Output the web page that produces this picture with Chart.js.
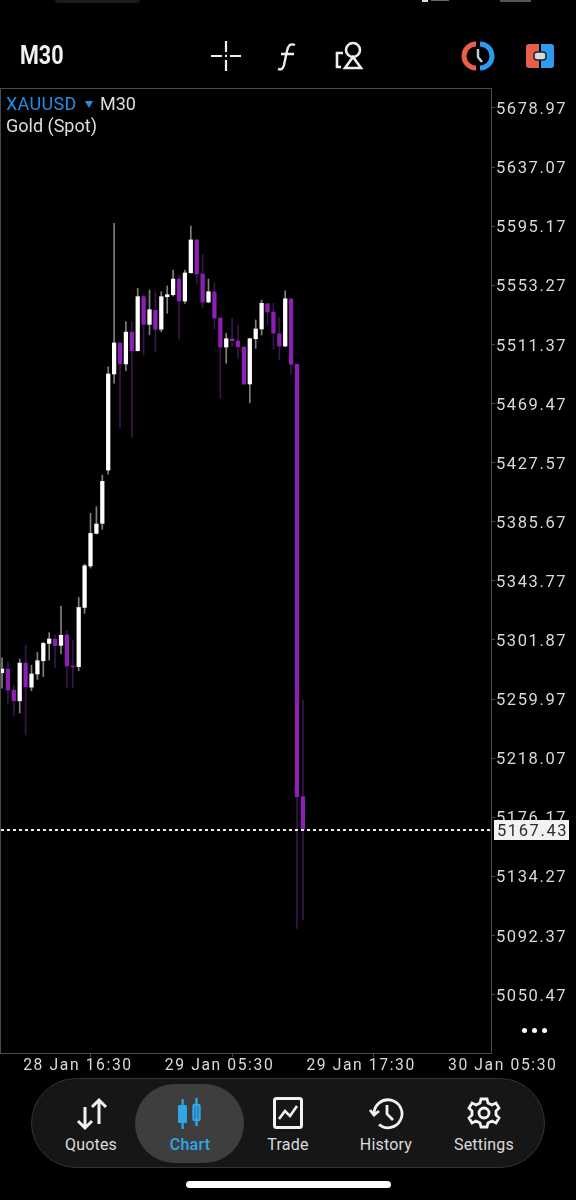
<!DOCTYPE html>
<html>
<head>
<meta charset="utf-8">
<title>XAUUSD M30</title>
<script src="https://cdn.jsdelivr.net/npm/chart.js"></script>
<style>
  html, body { margin: 0; background: #000; }
  #page { position: relative; width: 576px; height: 1200px; overflow: hidden; background: #000; font-family: Roboto, sans-serif; }
  #myChart { position: absolute; left: 0; top: 0; }
  .txt { position: absolute; white-space: nowrap; line-height: 1; }
  .navlabel { position: absolute; top: 1137px; width: 90px; text-align: center; font-size: 16px; line-height: 1; color: #dcdcdc; letter-spacing: 0.2px; }
  svg { position: absolute; overflow: visible; }
  .dot { position: absolute; top: 1028px; width: 5px; height: 5px; border-radius: 50%; background: #fff; }
</style>
</head>
<body>
<div id="page">
  <canvas id="myChart" width="576" height="1200"></canvas>

  <!-- status bar leftovers -->
  <div style="position:absolute;left:55px;top:0;width:85px;height:3px;background:#1b1b1b;border-radius:0 0 6px 6px"></div>
  <div style="position:absolute;left:422px;top:0;width:6px;height:2px;background:#ddd"></div>
  <div style="position:absolute;left:431px;top:0;width:18px;height:1px;background:#666"></div>
  <div style="position:absolute;left:500px;top:0;width:31px;height:2px;background:#555"></div>

  <!-- top bar -->
  <div class="txt" style="left:20px;top:43px;font:700 25px/1 'Roboto';color:#f2f2f2;transform:scaleX(.86);transform-origin:left">M30</div>
  <svg style="left:211px;top:41px" width="30" height="30" fill="none" stroke="#eee" stroke-width="2.2">
    <path d="M15 0V11M15 19V30M0 15H11M19 15H30M14 14.9h2"/>
  </svg>
  <svg style="left:277px;top:43px" width="22" height="28" fill="none" stroke="#eee" stroke-width="2.4">
    <path d="M18 2C13 0 11 3 10 8L7 22C6 26 4 27 1 26M4 11H17"/>
  </svg>
  <svg style="left:336px;top:42px" width="27" height="28" fill="none" stroke="#eee" stroke-width="2.6">
    <circle cx="17" cy="8" r="7"/><path d="M7 11H1V25H5M17 15L9 26H25Z"/>
  </svg>
  <svg style="left:463px;top:41px" width="30" height="30" fill="none">
    <path d="M13 3A12 12 0 0 0 13 27" stroke="#e8604c" stroke-width="5"/>
    <path d="M17 3A12 12 0 0 1 17 27" stroke="#2d9cf0" stroke-width="5"/>
    <path d="M15 8V16L19 21" stroke="#c9cdd2" stroke-width="2.4"/>
  </svg>
  <svg style="left:525px;top:41px" width="30" height="30">
    <path d="M4 3H14V27H4Q1 27 1 24V6Q1 3 4 3Z" fill="#e8604c"/>
    <path d="M16 3H26Q29 3 29 6V24Q29 27 26 27H16Z" fill="#2d9cf0"/>
    <rect x="9" y="11" width="12" height="8" rx="3" fill="#d5d8dc" stroke="#222" stroke-width="1.5"/>
  </svg>

  <!-- symbol caption -->
  <div class="txt" style="left:6px;top:95px;font-size:18px;letter-spacing:.3px;color:#1e8fe6">XAUUSD</div>
  <svg style="left:85px;top:101px" width="8" height="7"><path d="M0 0H8L4 7Z" fill="#1e8fe6"/></svg>
  <div class="txt" style="left:100px;top:95px;font-size:18px;color:#dedede">M30</div>
  <div class="txt" style="left:6px;top:117px;font-size:18px;color:#dedede">Gold (Spot)</div>

  <div class="dot" style="left:522px"></div>
  <div class="dot" style="left:532px"></div>
  <div class="dot" style="left:542px"></div>

  <!-- bottom nav -->
  <div style="position:absolute;left:31px;top:1078px;width:514px;height:90px;box-sizing:border-box;background:#161616;border:1px solid #333;border-radius:45px"></div>
  <div style="position:absolute;left:135px;top:1084px;width:109px;height:79px;background:#3e3e3e;border-radius:40px"></div>
  <svg style="left:76px;top:1098px" width="32" height="32" fill="none" stroke="#f2f2f2" stroke-width="3">
    <path d="M9 9V30M2 23L9 30L16 23M23 26V2M16 9L23 2L30 9"/>
  </svg>
  <svg style="left:178px;top:1098px" width="24" height="32" fill="#2ea6e8">
    <rect x="0" y="7" width="9" height="18" rx="1.5"/><rect x="3.5" y="1" width="2.2" height="30"/>
    <rect x="15.5" y="7" width="6" height="15" fill="none" stroke="#2ea6e8" stroke-width="2.4" rx="1"/><rect x="17.3" y="0" width="2.4" height="28"/>
  </svg>
  <svg style="left:273px;top:1097px" width="30" height="32" fill="none" stroke="#f2f2f2">
    <rect x="1.5" y="1.5" width="27" height="29" rx="2" stroke-width="3"/>
    <path d="M6 22L12 14L17 19L24 9" stroke-width="2.6"/>
  </svg>
  <svg style="left:369px;top:1097px" width="34" height="34" fill="none" stroke="#f2f2f2" stroke-width="2.8">
    <path d="M5 17A14 14 0 1 1 10 27.5M1 13L5 18L10 14M18 8V17L24 23"/>
  </svg>
  <svg style="left:469px;top:1097px" width="30" height="32" fill="none" stroke="#f2f2f2" stroke-width="2.8">
    <path d="M12 2H18L19 6L23 8L27 6L30 11L27 14V18L30 21L27 26L23 24L19 26L18 30H12L11 26L7 24L3 26L0 21L3 18V14L0 11L3 6L7 8L11 6Z"/>
    <circle cx="15" cy="16" r="5"/>
  </svg>
  <div class="navlabel" style="left:46px">Quotes</div>
  <div class="navlabel" style="left:145px;color:#2ea6e8;font-weight:500">Chart</div>
  <div class="navlabel" style="left:243px">Trade</div>
  <div class="navlabel" style="left:341px">History</div>
  <div class="navlabel" style="left:439px">Settings</div>
  <div style="position:absolute;left:186px;top:1181px;width:205px;height:7px;background:#fff;border-radius:4px"></div>
</div>

<script>
// candles, oldest first
const opens = [5278.6,5281.2,5266.3,5258.7,5285.4,5268.4,5277.7,5287.1,5299.4,5302.3,5298.0,5305.3,5283.4,5282.9,5324.9,5354.3,5377.4,5384.5,5422.3,5490.4,5512.4,5497.5,5520.1,5506.9,5545.2,5525.6,5535.5,5522.1,5545.2,5546.6,5557.7,5542.1,5562.2,5585.4,5561.3,5541.4,5548.5,5530.1,5509.5,5515.2,5513.8,5509.5,5483.3,5515.4,5522.3,5540.2,5534.3,5518.9,5510.2,5543.5,5497.2,5190.7];
const highs = [5289.2,5286.4,5269.9,5288.3,5298.2,5284.0,5293.1,5300.2,5307.0,5305.3,5325.9,5308.4,5301.8,5332.0,5355.6,5391.6,5396.3,5418.7,5495.5,5597.2,5512.4,5527.4,5527.4,5551.1,5546.4,5549.9,5548.7,5548.7,5552.8,5564.1,5560.5,5564.1,5595.3,5586.1,5574.8,5557.7,5554.7,5530.1,5519.2,5529.9,5525.1,5509.5,5515.4,5528.7,5542.8,5540.2,5540.5,5530.5,5549.4,5544.2,5497.2,5259.2];
const lows = [5267.7,5256.4,5247.9,5250.0,5234.4,5265.8,5273.9,5275.8,5287.6,5282.4,5291.9,5268.0,5268.0,5280.0,5320.7,5352.8,5376.9,5380.3,5419.4,5483.8,5451.9,5492.7,5445.5,5506.7,5503.8,5518.2,5506.2,5520.3,5533.4,5545.7,5515.0,5540.5,5561.8,5554.7,5537.7,5540.9,5522.1,5473.1,5498.0,5509.7,5501.5,5482.9,5470.0,5508.6,5518.0,5525.1,5507.9,5500.3,5509.7,5490.1,5097.3,5103.7];
const closes = [5281.2,5266.3,5258.7,5285.4,5268.6,5277.7,5287.1,5299.4,5302.5,5297.8,5305.1,5283.4,5282.7,5324.9,5354.4,5377.4,5384.0,5414.3,5490.4,5512.4,5497.5,5520.1,5506.9,5545.2,5525.6,5536.0,5522.1,5545.2,5546.6,5557.7,5542.1,5562.0,5585.4,5561.3,5541.4,5548.7,5530.1,5509.5,5515.4,5514.0,5509.7,5483.3,5515.4,5522.3,5540.5,5534.3,5519.4,5510.2,5543.7,5497.2,5190.7,5167.43];

const priceTicks = [5678.97,5637.07,5595.17,5553.27,5511.37,5469.47,5427.57,5385.67,5343.77,5301.87,5259.97,5218.07,5176.17,5134.27,5092.37,5050.47];
const timeTicks = [3, 27, 51, 75];
const timeLabels = ["28 Jan 16:30", "29 Jan 05:30", "29 Jan 17:30", "30 Jan 05:30"];
const lastPrice = 5167.43;

const up = opens.map((o, i) => closes[i] >= o);
const axisColor = "#4a4a4a";

const frame = {
  id: "frame",
  beforeDraw(chart) {
    chart.ctx.letterSpacing = "1.6px"; // tick labels are spaced out in the app
  },
  afterDatasetsDraw(chart) {
    const { ctx, chartArea } = chart;
    ctx.save();
    ctx.strokeStyle = axisColor;
    ctx.lineWidth = 1;
    ctx.strokeRect(0.5, chartArea.top - 0.5, chartArea.right, chartArea.bottom - chartArea.top + 1);
    ctx.restore();
  },
  afterDraw(chart) {
    const { ctx, chartArea, scales } = chart;
    const y = Math.round(scales.y.getPixelForValue(lastPrice));
    ctx.save();
    ctx.strokeStyle = "#f0f0f0";
    ctx.lineWidth = 2;
    ctx.setLineDash([3, 3]);
    ctx.beginPath();
    ctx.moveTo(1, y);
    ctx.lineTo(chartArea.right, y);
    ctx.stroke();
    ctx.setLineDash([]);
    ctx.fillStyle = "#f2f2f2";
    ctx.fillRect(494, y - 10, 75, 20);
    ctx.fillStyle = "#2b2b2b";
    ctx.font = "16.5px Roboto";
    ctx.textBaseline = "middle";
    ctx.textAlign = "left";
    ctx.fillText(lastPrice.toFixed(2), 497, y + 2);
    ctx.restore();
  }
};

var ctx = document.getElementById("myChart").getContext("2d");
var chart = new Chart(ctx, {
  type: "bar",
  data: {
    datasets: [
      {
        label: "Body",
        data: opens.map((o, i) => ({ x: i, y: [o, closes[i]] })),
        backgroundColor: up.map(u => (u ? "#ffffff" : "#8d1fb6")),
        grouped: false,
        barPercentage: 1,
        categoryPercentage: 1,
        maxBarThickness: 3.6,
        minBarLength: 1
      },
      {
        label: "Wick",
        data: lows.map((l, i) => ({ x: i, y: [l, highs[i]] })),
        backgroundColor: up.map(u => (u ? "#808080" : "#38154f")),
        grouped: false,
        barPercentage: 1,
        categoryPercentage: 1,
        maxBarThickness: 1
      }
    ]
  },
  options: {
    responsive: false,
    animation: false,
    layout: { padding: { left: 1, top: 89, right: 0, bottom: 0 } },
    plugins: { legend: { display: false }, tooltip: { enabled: false } },
    scales: {
      x: {
        type: "linear",
        offset: false,
        min: -0.17,
        max: 82.88,
        grid: { drawOnChartArea: false, drawTicks: true, tickLength: 4, color: axisColor },
        border: { display: false },
        afterBuildTicks: axis => { axis.ticks = timeTicks.map(v => ({ value: v })); },
        afterFit: axis => { axis.height = 147; },
        ticks: {
          autoSkip: false,
          maxRotation: 0,
          align: "start",
          labelOffset: 3.5,
          padding: 0,
          color: "#d9d9d9",
          font: { family: "Roboto", size: 15.7 },
          callback: v => timeLabels[timeTicks.indexOf(v)]
        }
      },
      y: {
        position: "right",
        min: 5009,
        max: 5692.44,
        grid: { drawOnChartArea: false, drawTicks: true, tickLength: 4, color: axisColor },
        border: { display: false },
        afterBuildTicks: axis => { axis.ticks = priceTicks.map(v => ({ value: v })); },
        afterFit: axis => { axis.width = 85; },
        ticks: {
          autoSkip: false,
          padding: 1,
          labelOffset: 2,
          color: "#d9d9d9",
          font: { family: "Roboto", size: 16.5 },
          callback: v => v.toFixed(2)
        }
      }
    }
  },
  plugins: [frame]
});
</script>
</body>
</html>
